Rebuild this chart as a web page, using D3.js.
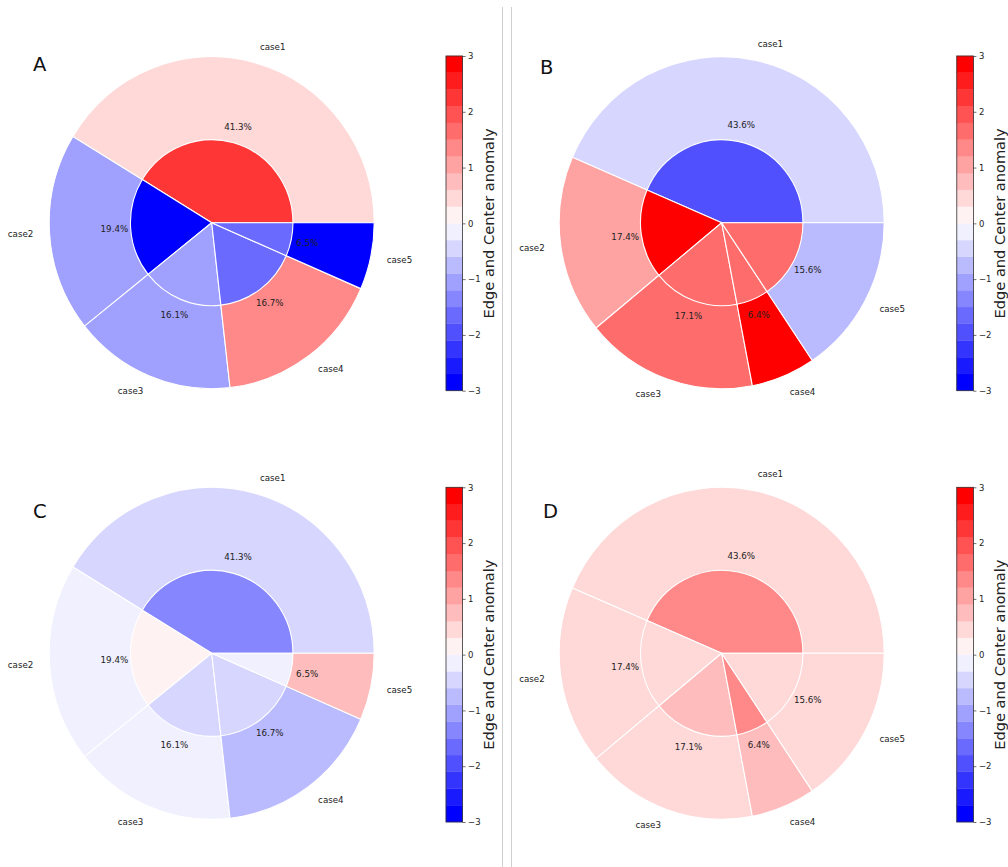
<!DOCTYPE html>
<html>
<head>
<meta charset="utf-8">
<script src="https://cdn.jsdelivr.net/npm/d3@7"></script>
<style>
  html, body { margin: 0; padding: 0; background: #fff; }
  svg { display: block; }
  text { font-family: "DejaVu Sans", sans-serif; }
</style>
</head>
<body>
<svg id="chart" width="1008" height="867"></svg>
<script>
// ---- data -------------------------------------------------------------
const cases = ["case1", "case2", "case3", "case4", "case5"];

// share of each case (%) — panels A/C and B/D
const shareAC = [41.3, 19.4, 16.1, 16.7, 6.5];
const shareBD = [43.6, 17.4, 17.1, 6.4, 15.6];

// edge (outer ring) and center (inner pie) anomalies per panel
const edgeA   = [0.4, -1.0, -1.0, 1.3, -2.9];
const centerA = [2.2, -2.9, -1.0, -1.6, -1.6];
const edgeB   = [-0.4, 1.0, 1.6, 2.9, -0.7];
const centerB = [-1.9, 2.9, 1.6, 1.6, 1.6];
const edgeC   = [-0.4, -0.1, -0.1, -0.7, 0.7];
const centerC = [-1.3, 0.1, -0.4, -0.4, -0.1];
const edgeD   = [0.4, 0.4, 0.4, 0.7, 0.4];
const centerD = [1.3, 0.4, 0.7, 1.3, 0.4];

// colour bar
const cbarTicks = [-3, -2, -1, 0, 1, 2, 3];
const cbarLabel = "Edge and Center anomaly";

// ---- colour map: discrete blue-white-red, 20 levels over [-3, 3] -------
const nLevels = 20;
const levels = d3.range(nLevels + 1).map(i => +(-3 + 6 * i / nLevels).toFixed(3));
function bwr(t) {
  let r, g, b;
  if (t <= 0.5) { const s = t / 0.5; r = s; g = s; b = 1; }
  else { const s = (t - 0.5) / 0.5; r = 1; g = 1 - s; b = 1 - s; }
  return d3.rgb(Math.round(r * 255), Math.round(g * 255), Math.round(b * 255)).formatHex();
}
const bandColors = d3.range(nLevels).map(k => bwr(Math.floor(k * 255 / (nLevels - 1)) / 255));
const color = d3.scaleThreshold().domain(levels.slice(1, -1)).range(bandColors);

// ---- layout -------------------------------------------------------------
const panels = [
  { letter: "A", lx: 33,  ly: 71,  cx: 211.7, cy: 222.7, share: shareAC, edge: edgeA, center: centerA, bx: 446,   by: 56 },
  { letter: "B", lx: 540, ly: 74,  cx: 721.7, cy: 222.7, share: shareBD, edge: edgeB, center: centerB, bx: 956.8, by: 56 },
  { letter: "C", lx: 33,  ly: 518, cx: 211.7, cy: 653.3, share: shareAC, edge: edgeC, center: centerC, bx: 446,   by: 487.3 },
  { letter: "D", lx: 543, ly: 518, cx: 721.7, cy: 653.3, share: shareBD, edge: edgeD, center: centerD, bx: 956.8, by: 487.3 }
];
const R = 162.5;            // outer radius (horizontal)
const yStretch = 166 / 162.5;
const innerFrac = 0.5;
const cbW = 16.6, cbH = 334.7;

const svg = d3.select("#chart");

// divider lines between the left and right columns
[502.5, 511.5].forEach(x => {
  svg.append("line").attr("x1", x).attr("x2", x).attr("y1", 7).attr("y2", 867)
    .attr("stroke", "#d0d0d0").attr("stroke-width", 1);
});

// counter-clockwise from 3 o'clock
const pie = d3.pie().sort(null).value(d => d.share)
  .startAngle(Math.PI / 2).endAngle(Math.PI / 2 - 2 * Math.PI);

panels.forEach(p => {
  const rows = cases.map((c, i) => ({ name: c, share: p.share[i], edge: p.edge[i], center: p.center[i] }));
  const arcs = pie(rows);
  const g = svg.append("g").attr("transform", `translate(${p.cx},${p.cy})`);
  const wedges = g.append("g").attr("transform", `scale(1,${yStretch})`);

  const outerArc = d3.arc().innerRadius(0).outerRadius(R);
  const innerArc = d3.arc().innerRadius(0).outerRadius(R * innerFrac);

  wedges.selectAll("path.outer").data(arcs).join("path")
    .attr("class", "outer")
    .attr("d", outerArc)
    .attr("fill", d => color(d.data.edge))
    .attr("stroke", "#fff").attr("stroke-width", 1.1).attr("stroke-linejoin", "round");

  wedges.selectAll("path.inner").data(arcs).join("path")
    .attr("class", "inner")
    .attr("d", innerArc)
    .attr("fill", d => color(d.data.center))
    .attr("stroke", "#fff").attr("stroke-width", 1.1).attr("stroke-linejoin", "round");

  // case labels just outside the ring
  const labelArc = d3.arc().innerRadius(R * 1.1).outerRadius(R * 1.1);
  g.selectAll("text.case").data(arcs).join("text")
    .attr("class", "case")
    .attr("x", d => labelArc.centroid(d)[0])
    .attr("y", d => labelArc.centroid(d)[1] * yStretch)
    .attr("dy", "0.35em")
    .attr("text-anchor", d => labelArc.centroid(d)[0] > 0 ? "start" : "end")
    .attr("font-size", 8.7).attr("fill", "#222")
    .text(d => d.data.name);

  // percentage labels
  const pctArc = d3.arc().innerRadius(R * 0.6).outerRadius(R * 0.6);
  g.selectAll("text.pct").data(arcs).join("text")
    .attr("class", "pct")
    .attr("x", d => pctArc.centroid(d)[0])
    .attr("y", d => pctArc.centroid(d)[1] * yStretch)
    .attr("dy", "0.35em")
    .attr("text-anchor", "middle")
    .attr("font-size", 8.7).attr("fill", "#222")
    .text(d => d3.format(".1f")(d.data.share) + "%");

  // panel letter
  svg.append("text").attr("x", p.lx).attr("y", p.ly)
    .attr("font-size", 19.5).attr("fill", "#111")
    .text(p.letter);

  // colour bar
  const y = d3.scaleLinear().domain([-3, 3]).range([p.by + cbH, p.by]);
  const cb = svg.append("g");
  cb.selectAll("rect").data(d3.range(nLevels)).join("rect")
    .attr("x", p.bx).attr("width", cbW)
    .attr("y", k => y(levels[k + 1]))
    .attr("height", k => y(levels[k]) - y(levels[k + 1]))
    .attr("fill", k => bandColors[k])
    .attr("stroke", k => bandColors[k]).attr("stroke-width", 0.3);
  cb.append("rect").attr("x", p.bx).attr("y", p.by).attr("width", cbW).attr("height", cbH)
    .attr("fill", "none").attr("stroke", "#333").attr("stroke-width", 0.8);

  const axis = cb.append("g").attr("transform", `translate(${p.bx + cbW},0)`)
    .call(d3.axisRight(y).tickValues(cbarTicks).tickSize(3).tickPadding(2.5).tickFormat(d3.format("d")));
  axis.select(".domain").remove();
  axis.selectAll(".tick line").attr("stroke", "#333").attr("stroke-width", 0.7);
  axis.selectAll(".tick text").attr("font-family", "DejaVu Sans, sans-serif")
    .attr("font-size", 8.5).attr("fill", "#222");

  svg.append("text")
    .attr("transform", `translate(${p.bx + cbW + 26.7},${p.by + cbH / 2}) rotate(-90)`)
    .attr("text-anchor", "middle").attr("dy", "0.35em")
    .attr("font-size", 14.6).attr("fill", "#222")
    .text(cbarLabel);
});
</script>
</body>
</html>
